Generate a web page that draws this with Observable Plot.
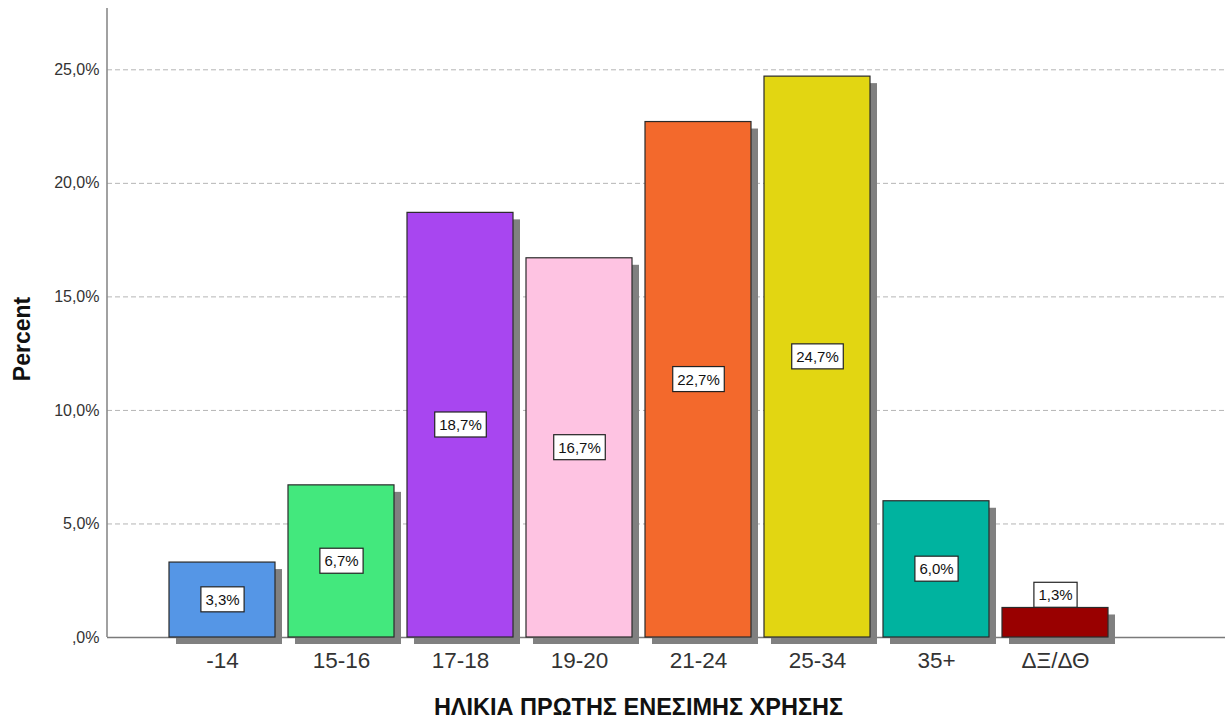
<!DOCTYPE html>
<html>
<head>
<meta charset="utf-8">
<script src="https://cdn.jsdelivr.net/npm/d3@7"></script>
<script src="https://cdn.jsdelivr.net/npm/@observablehq/plot@0.6"></script>
<style>
  html, body { margin: 0; padding: 0; background: #fff; }
</style>
</head>
<body>
<div id="chart"></div>
<script>
const categories = ["-14", "15-16", "17-18", "19-20", "21-24", "25-34", "35+", "ΔΞ/ΔΘ"];
const percents = [3.3, 6.7, 18.7, 16.7, 22.7, 24.7, 6.0, 1.3];
const barColors = ["#5596E6", "#43E87D", "#A846F0", "#FEC3E2", "#F3692C", "#E2D612", "#00B39F", "#990000"];
const yTicks = [0, 5, 10, 15, 20, 25];
const xTitle = "ΗΛΙΚΙΑ ΠΡΩΤΗΣ ΕΝΕΣΙΜΗΣ ΧΡΗΣΗΣ";
const yTitle = "Percent";

const data = categories.map((c, i) => ({cat: c, pct: percents[i], color: barColors[i]}));
const fmtPct = v => (v === 0 ? ",0" : v.toFixed(1).replace(".", ",")) + "%";
const inside = data.filter(d => d.pct >= 2);
const above = data.filter(d => d.pct < 2);

const axisLine = (index, scales, values, dims) =>
  d3.create("svg:line")
    .attr("x1", dims.marginLeft).attr("x2", dims.marginLeft)
    .attr("y1", dims.marginTop).attr("y2", dims.height - dims.marginBottom)
    .attr("stroke", "#8a8a8a").attr("stroke-width", 1.6)
    .node();

const plot = Plot.plot({
  width: 1232,
  height: 720,
  marginLeft: 107,
  marginRight: 7,
  marginTop: 8,
  marginBottom: 83,
  style: {fontFamily: "'Liberation Sans', Arial, sans-serif", background: "#fff"},
  x: {domain: categories, range: [167, 1110], paddingInner: 0.109, paddingOuter: 0, label: null},
  y: {domain: [0, 27.7], label: null},
  marks: [
    Plot.gridY(yTicks, {stroke: "#b5b5b5", strokeOpacity: 1, strokeDasharray: "5,3"}),
    Plot.ruleY([0], {stroke: "#7a7a7a", strokeWidth: 1.6}),
    Plot.barY(data, {x: "cat", y: "pct", fill: "#808080", dx: 7, dy: 7}),
    Plot.barY(data, {x: "cat", y: "pct", fill: d => d.color, stroke: "#2a2a2a", strokeWidth: 1.2}),
    axisLine,
    Plot.axisY(yTicks, {tickSize: 0, tickPadding: 8, tickFormat: fmtPct, fontSize: 16, color: "#333", label: null}),
    Plot.axisX({tickSize: 0, tickPadding: 15, fontSize: 22.5, color: "#333", label: null}),
    Plot.text(inside, {x: "cat", y: d => d.pct / 2, text: d => fmtPct(d.pct), fontSize: 15, fill: "#111", ariaDescription: "vlab"}),
    Plot.text(above, {x: "cat", y: "pct", dy: -12.5, text: d => fmtPct(d.pct), fontSize: 15, fill: "#111", ariaDescription: "vlab"}),
    Plot.text([xTitle], {frameAnchor: "bottom", textAnchor: "middle", lineAnchor: "middle", dx: -28, dy: 70, fontSize: 23.5, fontWeight: "bold", fill: "#111"}),
    Plot.text([yTitle], {frameAnchor: "left", textAnchor: "middle", lineAnchor: "middle", rotate: -90, dx: -85, dy: 16, fontSize: 23, fontWeight: "bold", fill: "#111"})
  ]
});

document.getElementById("chart").append(plot);

// white boxes with a thin dark border behind the value labels
plot.querySelectorAll('g[aria-description="vlab"] text').forEach(t => {
  const b = t.getBBox();
  const r = document.createElementNS("http://www.w3.org/2000/svg", "rect");
  r.setAttribute("x", b.x - 4.5);
  r.setAttribute("y", b.y - 4);
  r.setAttribute("width", b.width + 9);
  r.setAttribute("height", b.height + 8);
  r.setAttribute("fill", "#fff");
  r.setAttribute("stroke", "#222");
  r.setAttribute("stroke-width", "1.2");
  if (t.getAttribute("transform")) r.setAttribute("transform", t.getAttribute("transform"));
  t.parentNode.insertBefore(r, t);
});
</script>
</body>
</html>
